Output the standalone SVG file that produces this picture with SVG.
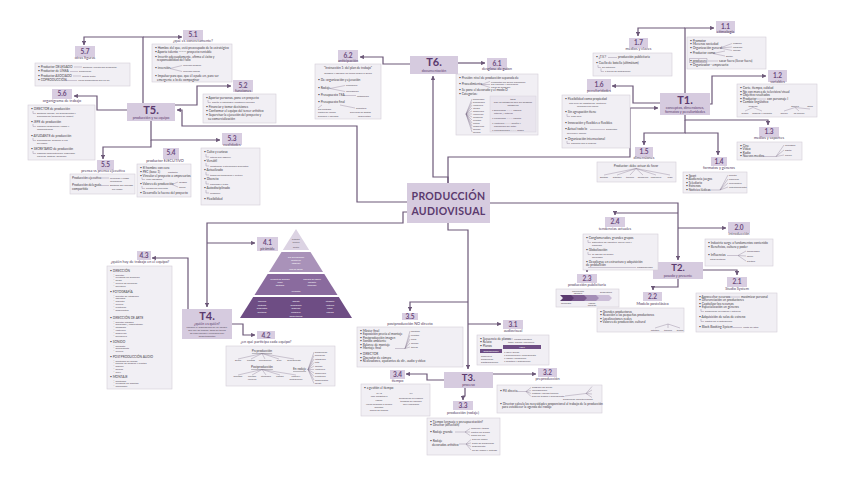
<svg xmlns="http://www.w3.org/2000/svg" width="848" height="477" viewBox="0 0 848 477">
<defs>
<style>
.tb{fill:#d6cbdf}
.lb{fill:#d8cde1}
.cb{fill:#f1eff4;stroke:#d3ccd8;stroke-width:.6}
.cn{fill:none;stroke:#6c5878;stroke-width:1.2}
.br{fill:none;stroke:#7d6d88;stroke-width:.35}
.T{font-family:Lato,"Liberation Sans",sans-serif;font-weight:700;font-size:11px;fill:#5b3a6e;text-anchor:middle}
.Ts{font-family:Lato,"Liberation Sans",sans-serif;font-size:3.6px;fill:#5b3a6e;text-anchor:middle}
.n{font-family:Lato,"Liberation Sans",sans-serif;font-weight:700;font-size:6.5px;fill:#6a4a7c;text-anchor:middle}
.s{font-family:Lato,"Liberation Sans",sans-serif;font-size:3.8px;fill:#4f3a5c;text-anchor:middle}
.t{font-family:Lato,"Liberation Sans",sans-serif;font-size:3.2px;fill:#454048}
.u{font-family:Lato,"Liberation Sans",sans-serif;font-size:2.5px;fill:#5a5060}
.w{font-family:Lato,"Liberation Sans",sans-serif;font-size:2.4px;fill:#ffffff;text-anchor:middle}
.c{text-anchor:middle}
</style>
<marker id="a" viewBox="0 0 6 6" refX="5.5" refY="3" markerWidth="3.6" markerHeight="3.6" orient="auto"><path d="M0,0L6,3L0,6z" fill="#6c5878"/></marker>
</defs>
<rect width="848" height="477" fill="#ffffff"/>

<g id="connectors">
<path class="cn" d="M448,183V177H433V76" marker-end="url(#a)"/>
<path class="cn" d="M448,183V157H630V108H658" marker-end="url(#a)"/>
<path class="cn" d="M407,202H357V126H182V110H177" marker-end="url(#a)"/>
<path class="cn" d="M407,212H403V223H207V307" marker-end="url(#a)"/>
<path class="cn" d="M448,223V230H468V369" marker-end="url(#a)"/>
<path class="cn" d="M490,203H678V260" marker-end="url(#a)"/>
<path class="cn" d="M458,63H485" marker-end="url(#a)"/>
<path class="cn" d="M410,64H383V57H360" marker-end="url(#a)"/>
<path class="cn" d="M143,103V37H84V45" marker-end="url(#a)"/>
<path class="cn" d="M143,37H182" marker-end="url(#a)"/>
<path class="cn" d="M175,105H197V86H231" marker-end="url(#a)"/>
<path class="cn" d="M127,110H97V96H74" marker-end="url(#a)"/>
<path class="cn" d="M151,121V140H220" marker-end="url(#a)"/>
<path class="cn" d="M151,140V147H103V159" marker-end="url(#a)"/>
<path class="cn" d="M685,93V28H714" marker-end="url(#a)"/>
<path class="cn" d="M685,28H638V36" marker-end="url(#a)"/>
<path class="cn" d="M710,104H712V76H766" marker-end="url(#a)"/>
<path class="cn" d="M660,103H633V86H612" marker-end="url(#a)"/>
<path class="cn" d="M685,115V120H768V125" marker-end="url(#a)"/>
<path class="cn" d="M685,120V133H644V145" marker-end="url(#a)"/>
<path class="cn" d="M685,133H718V155" marker-end="url(#a)"/>
<path class="cn" d="M678,228H726" marker-end="url(#a)"/>
<path class="cn" d="M678,213H615V215" marker-end="url(#a)"/>
<path class="cn" d="M703,270H737V275" marker-end="url(#a)"/>
<path class="cn" d="M678,279V287H653V290" marker-end="url(#a)"/>
<path class="cn" d="M587,270V272" marker-end="url(#a)"/>
<path class="cn" d="M468,324H501" marker-end="url(#a)"/>
<path class="cn" d="M468,302H410V311" marker-end="url(#a)"/>
<path class="cn" d="M493,374H536" marker-end="url(#a)"/>
<path class="cn" d="M465,388V396H463V400" marker-end="url(#a)"/>
<path class="cn" d="M444,380H427V374H406" marker-end="url(#a)"/>
<path class="cn" d="M207,243H255" marker-end="url(#a)"/>
<path class="cn" d="M188,309V258H152" marker-end="url(#a)"/>
<path class="cn" d="M232,324H243V335H255" marker-end="url(#a)"/>
</g>

<g id="center">
<rect class="tb" x="407" y="183" width="83" height="40"/>
<text class="T" x="448.5" y="200" style="font-size:10.5px;letter-spacing:.3px">PRODUCCIÓN</text>
<text class="T" x="448.5" y="215" style="font-size:10.5px;letter-spacing:.3px">AUDIOVISUAL</text>
</g>

<!-- T6 -->
<g id="t6">
<rect class="tb" x="410" y="56" width="48" height="18"/>
<text class="T" x="434" y="66">T6.</text>
<text class="Ts" x="434" y="71.5">documentación</text>
</g>
<g id="n61">
<rect class="lb" x="487" y="58" width="20" height="12"/>
<text class="n" x="497" y="65.5">6.1</text>
<text class="s" x="497" y="70">desglose de guion</text>
<rect class="cb" x="456" y="74" width="82" height="61"/>
<text class="t" x="459" y="79">• Presión: nivel de producción separada de</text>
<text class="t" x="459" y="85">• Procedimiento</text>
<path class="br" d="M481,84.5L490,81.5M481,84.5L490,84.5M481,84.5L490,87.5"/>
<text class="u" x="491" y="82.5">elementos del guion ordenados</text>
<text class="u" x="491" y="85.3">por escenas y secuencias</text>
<text class="u" x="491" y="88.3">hojas de desglose</text>
<text class="t" x="459" y="91">• Se pone el decorado y el modo D</text>
<text class="t" x="459" y="95">• Categorías:</text>
<path class="br" d="M466,114L472,99M466,114L472,102M466,114L472,105M466,114L472,108M466,114L472,111M466,114L472,114M466,114L472,117M466,114L472,120M466,114L472,123M466,114L472,126M466,114L472,129M466,114L472,132"/>
<text class="u" x="473" y="99.5">decorados</text>
<text class="u" x="473" y="102.5">personajes</text>
<text class="u" x="473" y="105.5">vestuario</text>
<text class="u" x="473" y="108.5">atrezo</text>
<text class="u" x="473" y="111.5">maquillaje</text>
<text class="u" x="473" y="114.5">vehículos</text>
<text class="u" x="473" y="117.5">animales</text>
<text class="u" x="473" y="120.5">efectos</text>
<text class="u" x="473" y="123.5">extras</text>
<text class="u" x="473" y="126.5">especiales</text>
<text class="u" x="473" y="129.5">sonido</text>
<text class="u" x="473" y="132.5">música</text>
<rect x="490" y="96" width="46" height="36" fill="#e9e5ee" stroke="#d3ccd8" stroke-width=".4"/>
<text class="u c" x="513" y="99.5">tipos</text>
<text class="u c" x="513" y="102.5">Son las categorías que del desglose</text>
<text class="u c" x="513" y="105.5">categorías</text>
<text class="u" x="492" y="110.5">• Decorados ——— espacio</text>
<text class="u" x="494" y="113.5">interior / exterior</text>
<text class="u" x="492" y="118.5">• Personajes ——— reparto</text>
<text class="u" x="492" y="123.5">• Vestuario ——— diseño y</text>
<text class="u" x="494" y="126.5">confección del actor</text>
<text class="u" x="492" y="130.5">• Localizaciones ——— rodaje</text>
</g>
<g id="n62">
<rect class="lb" x="338" y="50" width="20" height="12"/>
<text class="n" x="348" y="57.5">6.2</text>
<text class="s" x="348" y="62">anticipación</text>
<rect class="cb" x="315" y="64" width="66" height="55"/>
<text class="t c" x="348" y="69">"Instrucción 1: del plan de trabajo"</text>
<text class="u c" x="348" y="74">designar y agendar las tareas según el guion</text>
<text class="t" x="318" y="81">• De: organización y ejecución</text>
<text class="t" x="318" y="89">• Rodaje</text>
<path class="br" d="M330,88.5L345,85.5M330,88.5L345,91.5"/>
<text class="u" x="346" y="86">calendario</text>
<text class="u" x="346" y="92">localización</text>
<text class="t" x="318" y="96">• Presupuesto TEA</text>
<path class="br" d="M343,95.5H356"/>
<text class="u" x="357" y="96.5">estimación</text>
<text class="t" x="318" y="103">• Presupuesto final</text>
<path class="br" d="M322,105L318,108M340,105L355,108"/>
<text class="u" x="318" y="110">por partidas</text>
<text class="u" x="356" y="109">definitivo</text>
<text class="u" x="318" y="113">costes de rodaje</text>
<text class="u" x="318" y="116.5">personal y equipos</text>
<text class="u" x="350" y="113">previsión de gastos</text>
<text class="u" x="358" y="116.5">imprevistos</text>
</g>

<!-- T5 -->
<g id="t5">
<rect class="tb" x="127" y="103" width="48" height="18"/>
<text class="T" x="151" y="113.5">T5.</text>
<text class="Ts" x="151" y="119">producción y su equipo</text>
</g>
<g id="n51">
<rect class="lb" x="183" y="30" width="20" height="10"/>
<text class="n" x="193" y="37">5.1</text>
<text class="s" x="193" y="42">¿qué es concretamente?</text>
<rect class="cb" x="152" y="44" width="80" height="38"/>
<text class="t" x="155" y="49">• Hombre del que, está preocupado de lo estratégico</text>
<text class="t" x="155" y="53">• Aporta talento ——— proyecto rentable</text>
<text class="t" x="155" y="57.5">• Invertir adecuadamente, afirma el éxito y</text>
<text class="t" x="157" y="61">responsabilidad del fallo</text>
<text class="t" x="155" y="69">• inversión</text>
<path class="br" d="M170,68.5L182,65.5M170,68.5L182,71.5"/>
<text class="u" x="183" y="66">recursos propios</text>
<text class="u" x="183" y="72">recursos ajenos</text>
<text class="t" x="155" y="77">• Impulsar para que, que él ayude en, para ser</text>
<text class="t" x="157" y="80.5">emergente a lo de compaginar</text>
</g>
<g id="n52">
<rect class="lb" x="233" y="80" width="20" height="12"/>
<text class="n" x="243" y="87.5">5.2</text>
<text class="s" x="243" y="92">funciones</text>
<rect class="cb" x="203" y="94" width="73" height="29"/>
<text class="t" x="206" y="99">• Aportar personas, pone en proyecto</text>
<path class="br" d="M208,100V102.5H211"/>
<text class="u" x="212" y="103">diseña la estrategia y gestiona recursos</text>
<text class="t" x="206" y="108">• Financiar y tomar decisiones</text>
<text class="t" x="206" y="112">• Conformar el equipo del tercer artístico</text>
<text class="t" x="206" y="116">• Supervisar la ejecución del proyecto y</text>
<text class="t" x="208" y="120">su comercialización</text>
</g>
<g id="n53">
<rect class="lb" x="222" y="133" width="20" height="12"/>
<text class="n" x="232" y="140.5">5.3</text>
<text class="s" x="232" y="146">cualidades</text>
<rect class="cb" x="201" y="148" width="59" height="57"/>
<text class="t" x="204" y="153">• Culto y curioso</text>
<path class="br" d="M206,154V157H209"/>
<text class="u" x="210" y="157.5">interés por adquirir</text>
<text class="t" x="204" y="162">• Versátil</text>
<path class="br" d="M206,163V166H209"/>
<text class="u" x="210" y="166.5">adaptación a situaciones diferentes</text>
<text class="t" x="204" y="171">• Actualizado</text>
<path class="br" d="M206,172V175H209"/>
<text class="u" x="210" y="175.5">temas de tendencias y cultura</text>
<text class="t" x="204" y="180">• Discreto</text>
<path class="br" d="M206,181V184H209"/>
<text class="u" x="210" y="184.5">confianza y trato</text>
<text class="t" x="204" y="189">• Autodisciplinado</text>
<path class="br" d="M206,190V193H209"/>
<text class="u" x="210" y="193.5">exigencia</text>
<text class="t" x="204" y="200">• Flexibilidad</text>
</g>
<g id="n54">
<rect class="lb" x="163" y="148" width="16" height="11"/>
<text class="n" x="171" y="155">5.4</text>
<text class="s" x="165" y="161.5">productor EJECUTIVO</text>
<rect class="cb" x="137" y="164" width="54" height="33"/>
<text class="t" x="140" y="168.5">• El hombre con cara</text>
<text class="t" x="140" y="172.5">• PEC (base 1)</text>
<text class="u" x="168" y="172.5">contacto</text>
<text class="t" x="140" y="176.5">• Vincular el proyecto a empresarios</text>
<path class="br" d="M142,177.5V179.5H145"/>
<text class="u" x="146" y="180">valor agregado</text>
<text class="t" x="140" y="185">• Valores de producción</text>
<path class="br" d="M172,184.5L178,182M172,184.5L178,187"/>
<text class="u" x="179" y="182.5">imagen</text>
<text class="u" x="179" y="187.5">marca</text>
<path class="br" d="M142,186V188.5H145"/>
<text class="u" x="146" y="189">calidad del proyecto</text>
<text class="t" x="140" y="194">• Desarrolla la fuerza del proyecto</text>
</g>
<g id="n55">
<rect class="lb" x="97" y="160" width="17" height="10"/>
<text class="n" x="105.5" y="167">5.5</text>
<text class="s" x="103" y="172">prensa vs prensa ejecutiva</text>
<rect class="cb" x="70" y="174" width="65" height="20"/>
<text class="t" x="72" y="178.5">Producción ejecutiva</text>
<path class="br" d="M101,178H109"/>
<text class="u" x="110" y="178.5">inversión y riesgo</text>
<text class="u" x="110" y="181.5">económico</text>
<text class="t" x="72" y="186">Producción delegada</text>
<path class="br" d="M101,185.5H109"/>
<text class="u" x="110" y="186">gestiona por encargo</text>
<text class="t" x="72" y="189.5">compartida</text>
<text class="u" x="112" y="190">sin riesgo</text>
</g>
<g id="n56">
<rect class="lb" x="52" y="89" width="20" height="10"/>
<text class="n" x="62" y="96">5.6</text>
<text class="s" x="62" y="102">organigrama de trabajo</text>
<rect class="cb" x="28" y="105" width="67" height="55"/>
<text class="t" x="31" y="110">• DIRECTOR de producción</text>
<path class="br" d="M33,111V113.5H36"/>
<text class="u" x="37" y="114">gestiona equipo, los presupuestos y</text>
<text class="u" x="37" y="117">planificación (dirección de rodaje)</text>
<text class="t" x="31" y="123">• JEFE de producción</text>
<path class="br" d="M33,124V126.5H36"/>
<text class="u" x="37" y="127">coordina producción, rodaje y</text>
<text class="u" x="37" y="130">administración</text>
<text class="t" x="31" y="137">• AYUDANTE de producción</text>
<path class="br" d="M33,138V140.5H36"/>
<text class="u" x="37" y="141">planificación, preparar el set</text>
<text class="u" x="37" y="144">de rodaje</text>
<text class="t" x="31" y="150">• SECRETARIO de producción</text>
<path class="br" d="M33,151V153.5H36"/>
<text class="u" x="37" y="154">organiza administración, seguridad,</text>
<text class="u" x="37" y="157">horarios, gestión, permisos</text>
</g>
<g id="n57">
<rect class="lb" x="75" y="46" width="20" height="11"/>
<text class="n" x="85" y="53.5">5.7</text>
<text class="s" x="85" y="59">otras figuras</text>
<rect class="cb" x="35" y="63" width="95" height="23"/>
<text class="t" x="38" y="67.5">• Productor DELEGADO</text>
<path class="br" d="M74,67H82"/>
<text class="u" x="83" y="67.5">gestiona, cuenta por productor</text>
<text class="t" x="38" y="72">• Productor de LÍNEA</text>
<path class="br" d="M70,71.5H78"/>
<text class="u" x="79" y="72">producción</text>
<text class="t" x="38" y="76.5">• Productor ASOCIADO</text>
<path class="br" d="M73,76H81"/>
<text class="u" x="82" y="76.5">aporta parte</text>
<text class="t" x="38" y="81">• COPRODUCCIÓN</text>
<path class="br" d="M64,80.5H77"/>
<text class="u" x="78" y="81">varias productoras por un fin</text>
</g>

<!-- T1 -->
<g id="t1">
<rect class="tb" x="660" y="93" width="50" height="22"/>
<text class="T" x="685" y="104">T1.</text>
<text class="Ts" x="685" y="108.5">conceptos, dimensiones,</text>
<text class="Ts" x="685" y="112.5">formatos y peculiaridades</text>
</g>
<g id="n11">
<rect class="lb" x="716" y="21" width="19" height="12"/>
<text class="n" x="725.5" y="28.5">1.1</text>
<text class="s" x="725.5" y="33">etimología</text>
<rect class="cb" x="687" y="37" width="79" height="32"/>
<text class="t" x="690" y="41.5">• Promotor</text>
<text class="t" x="690" y="45">• Mecenas sociedad</text>
<text class="t" x="690" y="48.5">• Organización general</text>
<path class="br" d="M720,48L732,43.5M720,48L732,47M720,48L732,50.5"/>
<text class="u" x="733" y="44">negocio</text>
<text class="u" x="733" y="47.5">empresa</text>
<text class="u" x="733" y="51">equipo</text>
<text class="t" x="690" y="54">• Productor como</text>
<path class="br" d="M713,53.5L725,51M713,53.5L725,56"/>
<text class="u" x="726" y="57">gestor</text>
<text class="t" x="690" y="61.5">• producere</text>
<path class="br" d="M689.5,58.5H707V62.5H689.5Z"/>
<path class="br" d="M708,61H718"/>
<text class="t" x="719" y="61.5">sacar fuera (llevar fuera)</text>
<text class="t" x="690" y="65.5">• Organizador - empresario</text>
</g>
<g id="n17">
<rect class="lb" x="629" y="38" width="19" height="10"/>
<text class="n" x="638.5" y="45">1.7</text>
<text class="s" x="638.5" y="50">medios y claves</text>
<rect class="cb" x="593" y="53" width="79" height="23"/>
<text class="t" x="596" y="58">• ¿T.V.?</text>
<path class="br" d="M608,57.5H617"/>
<text class="t" x="618" y="58">producción publicitaria</text>
<text class="t" x="596" y="64">• Cuello de botella (ultimátum)</text>
<path class="br" d="M598,65V67.5H601"/>
<text class="u" x="602" y="68">En Rotación</text>
<path class="br" d="M601,68.5V71.5H604"/>
<text class="u" x="605" y="72">a través de distribución</text>
</g>
<g id="n16">
<rect class="lb" x="587" y="79" width="24" height="12"/>
<text class="n" x="599" y="86.5">1.6</text>
<text class="s" x="599" y="91.5">peculiaridades</text>
<rect class="cb" x="562" y="95" width="68" height="53"/>
<text class="t" x="565" y="100">• Flexibilidad como propiedad</text>
<text class="u" x="569" y="103.5">alto nivel de adaptación, controlar</text>
<text class="u" x="577" y="107">economía de escala</text>
<text class="t" x="565" y="113">• Sin agrupación tiene</text>
<path class="br" d="M567,114V116.5H570"/>
<text class="u" x="571" y="117">cash flow</text>
<text class="t" x="565" y="124">• Innovación y flexibles a flexibles</text>
<text class="t" x="565" y="130">• Actual todo lo</text>
<path class="br" d="M590,129.5H605"/>
<text class="u" x="606" y="130">productos</text>
<text class="u" x="567" y="133.5">servicios y oficios</text>
<text class="t" x="565" y="140">• Organización internacional</text>
<path class="br" d="M567,141V143.5H570"/>
<text class="u" x="571" y="144">conectar con el público</text>
</g>
<g id="n12">
<rect class="lb" x="768" y="70" width="19" height="12"/>
<text class="n" x="777.5" y="77.5">1.2</text>
<text class="s" x="777.5" y="82.5">variables</text>
<rect class="cb" x="737" y="84" width="80" height="33"/>
<text class="t" x="740" y="89">• Corte, tiempo, calidad</text>
<text class="t" x="740" y="92.5">• No con marca de televisivo/visual</text>
<text class="t" x="740" y="96">• Objetivo resultados</text>
<text class="t" x="740" y="99.5">• Productor</text>
<path class="br" d="M757,99H766"/>
<text class="t" x="767" y="99.5">con personaje I</text>
<text class="t" x="740" y="103">• Cambio lingüístico</text>
<text class="u c" x="753" y="106.5">lenguaje</text>
<path class="br" d="M753,107.5L745,111M753,107.5L762,111"/>
<text class="u c" x="745" y="113.5">medio</text>
<text class="u c" x="762" y="113.5">soporte y formato</text>
<text class="u c" x="795" y="106.5">género</text>
<path class="br" d="M795,107.5L784,111M795,107.5L799,111M795,107.5L810,109"/>
<text class="u c" x="784" y="113.5">ficción</text>
<text class="u c" x="799" y="113.5">no ficción</text>
<text class="u c" x="810" y="107">otros</text>
</g>
<g id="n13">
<rect class="lb" x="759" y="127" width="20" height="10"/>
<text class="n" x="769" y="134">1.3</text>
<text class="s" x="769" y="139">medios y soportes</text>
<rect class="cb" x="737" y="142" width="65" height="18"/>
<text class="t" x="740" y="146.5">• Cine</text>
<text class="t" x="740" y="150">• Vídeo</text>
<text class="t" x="740" y="153.5">• Radio</text>
<text class="t" x="740" y="157">• Nuevos medios</text>
<path class="br" d="M763,156.5H776L784,145M776,156.5L784,150M776,156.5L784,155"/>
<text class="u" x="785" y="145.5">analógico</text>
<text class="u" x="785" y="150.5">digital</text>
<text class="u" x="785" y="155.5">online</text>
</g>
<g id="n15">
<rect class="lb" x="635" y="147" width="18" height="10"/>
<text class="n" x="644" y="154">1.5</text>
<text class="s" x="644" y="159">dimensiones</text>
<rect class="cb" x="597" y="162" width="79" height="20"/>
<text class="t c" x="636" y="167">Productor: debe actuar de favor</text>
<path class="br" d="M636,168.5L604,175M636,168.5L617,175M636,168.5L630,175M636,168.5L643,175M636,168.5L656,175M636,168.5L670,175"/>
<text class="u c" x="604" y="177.5">gestión</text>
<text class="u c" x="617" y="177.5">artística</text>
<text class="u c" x="630" y="177.5">técnica</text>
<text class="u c" x="643" y="177.5">financiera</text>
<text class="u c" x="656" y="177.5">comercial</text>
<text class="u c" x="670" y="177.5">legal</text>
</g>
<g id="n14">
<rect class="lb" x="711" y="157" width="16" height="9"/>
<text class="n" x="719" y="163.5">1.4</text>
<text class="s" x="719" y="168.5">formatos y géneros</text>
<rect class="cb" x="683" y="172" width="64" height="21"/>
<text class="t" x="686" y="176.5">• Sport</text>
<text class="t" x="686" y="180">• Audiencia juegos</text>
<text class="t" x="686" y="183.5">• Telediario</text>
<text class="t" x="686" y="187">• Estrenos</text>
<text class="t" x="686" y="190.5">• Noticias lúdicas</text>
<path class="br" d="M708,190H720L728,175M720,190L728,179M720,190L728,183M720,190L728,187"/>
<text class="u" x="729" y="175.5">directo</text>
<text class="u" x="729" y="179.5">concurso</text>
<text class="u" x="729" y="183.5">informativo</text>
<text class="u" x="729" y="187.5">entretenimiento</text>
</g>

<!-- T2 -->
<g id="t2">
<rect class="tb" x="653" y="262" width="50" height="17"/>
<text class="T" x="678" y="271" style="font-size:9.5px">T2.</text>
<text class="Ts" x="678" y="277">pasado y presente</text>
</g>
<g id="n20">
<rect class="lb" x="728" y="222" width="22" height="11"/>
<text class="n" x="739" y="229.5">2.0</text>
<text class="s" x="739" y="234.5">introducción</text>
<rect class="cb" x="705" y="239" width="68" height="27"/>
<text class="t" x="708" y="244">• Industria surge a fundamentos contenido</text>
<text class="t" x="708" y="247.5">• Beneficios, cultura y poder</text>
<text class="t" x="708" y="256">• Influencias</text>
<text class="u" x="710" y="259.5">otros sectores</text>
<path class="br" d="M727,255.5H738L746,251M738,255.5L746,256M738,255.5L746,261"/>
<text class="u" x="747" y="251.5">tecnológico</text>
<text class="u" x="747" y="256.5">social</text>
<text class="u" x="747" y="261.5">político</text>
</g>
<g id="n21">
<rect class="lb" x="727" y="277" width="20" height="10"/>
<text class="n" x="737" y="284">2.1</text>
<text class="s" x="737" y="289.5">Studio System</text>
<rect class="cb" x="696" y="293" width="81" height="39"/>
<text class="t" x="699" y="297.5">• Aprovechar recursos</text>
<path class="br" d="M729,297H740"/>
<text class="t" x="741" y="297.5">maximizar personal</text>
<text class="t" x="699" y="301">• Diferenciación en productores</text>
<text class="t" x="699" y="304.5">• Capitalizar los recursos</text>
<text class="t" x="699" y="308">• Especialización en géneros</text>
<path class="br" d="M701,309V311.5H704"/>
<text class="u" x="705" y="312">producción en cadena y estrellas</text>
<text class="t" x="699" y="318">• Adquisición de salas de estreno</text>
<path class="br" d="M701,319V321.5H704"/>
<text class="u" x="705" y="322">control de la distribución</text>
<text class="t" x="699" y="328">• Block Booking System</text>
<path class="br" d="M733,327.5H742"/>
<text class="u" x="743" y="328">venta en lotes</text>
</g>
<g id="n22">
<rect class="lb" x="643" y="292" width="19" height="9"/>
<text class="n" x="652.5" y="298.5">2.2</text>
<text class="s" x="652.5" y="304.5">Modelo postclásico</text>
<rect class="cb" x="597" y="308" width="87" height="24"/>
<text class="t" x="600" y="312.5">• Grandes productoras</text>
<text class="t" x="600" y="316">• Reacción a las pequeñas productoras</text>
<text class="t" x="600" y="319.5">• Localizaciones reales</text>
<text class="t" x="600" y="323">• Valores de producción, cultural</text>
<path class="br" d="M668,324L655,328M668,324L668,328M668,324L680,328"/>
<text class="u c" x="655" y="330.5">estética</text>
<text class="u c" x="668" y="330.5">técnica</text>
<text class="u c" x="680" y="330.5">temas</text>
</g>
<g id="n24">
<rect class="lb" x="605" y="217" width="20" height="10"/>
<text class="n" x="615" y="224">2.4</text>
<text class="s" x="615" y="229.5">tendencias actuales</text>
<rect class="cb" x="583" y="234" width="75" height="36"/>
<text class="t" x="586" y="239">• Conglomerados, grandes grupos</text>
<path class="br" d="M588,240V242.5H591"/>
<text class="u" x="592" y="243">Estructura de industria, mayor cine y</text>
<text class="u" x="592" y="246">consumo</text>
<text class="t" x="586" y="251">• Globalización</text>
<path class="br" d="M588,252V254.5H591"/>
<text class="u" x="592" y="255">se agrupa en países</text>
<text class="u" x="592" y="258">mercados</text>
<text class="t" x="586" y="262.5">• Despliegue en estructura y adquisición</text>
<text class="t" x="586" y="266">de producción</text>
<path class="br" d="M588,267.5H636"/>
<text class="u" x="637" y="268">conglomerado</text>
</g>
<g id="n23">
<rect class="lb" x="577" y="274" width="20" height="9"/>
<text class="n" x="587" y="280.5">2.3</text>
<text class="s" x="587" y="286">producción publicitaria</text>
<rect class="cb" x="556" y="289" width="63" height="18"/>
<path d="M560,295H572L575,298L572,301H560L563,298Z" fill="#5b3a70"/>
<path d="M571,295H585L588,298L585,301H571L574,298Z" fill="#7a5a8e"/>
<path d="M584,295H597L600,298L597,301H584L587,298Z" fill="#a58fb7"/>
<path d="M596,295H609L612,298L609,301H596L599,298Z" fill="#ccbfd8"/>
<text class="u c" x="578" y="291.8">anunciante</text>
<text class="u c" x="578" y="294">agencia</text>
<text class="u c" x="606" y="293">productora</text>
<text class="u c" x="566" y="304">concepto</text>
<text class="u c" x="592" y="304">rodaje</text>
<text class="u c" x="592" y="306.2">emisión</text>
</g>

<!-- T3 -->
<g id="t3">
<rect class="tb" x="444" y="372" width="49" height="16"/>
<text class="T" x="468.5" y="380.5" style="font-size:9.5px">T3.</text>
<text class="Ts" x="468.5" y="386.3">proceso</text>
</g>
<g id="n31">
<rect class="lb" x="503" y="320" width="20" height="9"/>
<text class="n" x="513" y="326.5">3.1</text>
<text class="s" x="513" y="331.5">audiovisual</text>
<rect class="cb" x="477" y="335" width="72" height="30"/>
<text class="t" x="480" y="339.5">• Secuencia de planos</text>
<path class="br" d="M505,339H513"/>
<text class="u" x="514" y="339.5">unidad narrativa</text>
<text class="t" x="480" y="343">• Relato</text>
<text class="u" x="508" y="343">toma, escena, secuencia</text>
<text class="t" x="480" y="346.5">• Planos</text>
<rect x="480" y="349" width="22" height="4" fill="#6e4d84"/>
<rect x="503" y="345" width="38" height="4" fill="#6e4d84"/>
<text class="w" x="522" y="348">fases</text>
<text class="w" x="491" y="352">preproducción</text>
<text class="u" x="481" y="356.5">desarrollo</text>
<text class="u" x="481" y="359.5">producción</text>
<text class="u" x="481" y="362.5">postproducción</text>
<text class="u" x="504" y="352.5">• idea y guion</text>
<text class="u" x="504" y="355.5">• planificación y presupuesto</text>
<text class="u" x="504" y="358.5">• rodaje y grabación</text>
<text class="u" x="504" y="361.5">• montaje y distribución</text>
</g>
<g id="n32">
<rect class="lb" x="538" y="368" width="19" height="9"/>
<text class="n" x="547.5" y="374.5">3.2</text>
<text class="s" x="547.5" y="380">preproducción</text>
<rect class="cb" x="497" y="385" width="105" height="28"/>
<text class="t" x="500" y="392">• Pill directa</text>
<path class="br" d="M517,391.5H526L531,387.5M526,391.5L531,390.5M526,391.5L531,393.5M526,391.5L531,396.5"/>
<text class="u" x="532" y="388">desglose del guion</text>
<text class="u" x="532" y="391">localizaciones</text>
<text class="u" x="532" y="394">casting y equipo técnico</text>
<text class="u" x="532" y="397">plan de trabajo y presupuesto</text>
<path class="br" d="M565,396L586,393.5M586,393.5L592,386.5M586,393.5L592,390M586,393.5L592,394M586,393.5L592,397.5"/>
<text class="u" x="563" y="399.5">producción ejecutiva</text>
<text class="u" x="586" y="399.5">rodaje</text>
<text class="t" x="500" y="404.5">• Director calcula las necesidades proporcional al trabajo de la producción</text>
<text class="t" x="502" y="408">para establecer la agenda del rodaje</text>
</g>
<g id="n33">
<rect class="lb" x="453" y="401" width="20" height="9"/>
<text class="n" x="463" y="407.5">3.3</text>
<text class="s" x="463" y="413.5">producción (rodaje)</text>
<rect class="cb" x="427" y="418" width="73" height="37"/>
<text class="t" x="430" y="422.5">• Tiempo lenguaje y presupuestación?</text>
<text class="t" x="430" y="426">• Director (dirección)</text>
<text class="t" x="430" y="432.5">• Rodaje grande</text>
<path class="br" d="M455,432H465L470,428.5M465,432L470,432M465,432L470,435.5"/>
<text class="u" x="471" y="429">ensayos y tomas</text>
<text class="u" x="471" y="432.5">control de planos</text>
<text class="u" x="471" y="436">orden del día</text>
<text class="t" x="430" y="442">• Rodaje</text>
<text class="t" x="432" y="445.5">decorados artístico</text>
<path class="br" d="M459,444H466L471,439.5M466,444L471,443M466,444L471,446.5M466,444L471,450"/>
<text class="u" x="472" y="440">plan de rodaje</text>
<text class="u" x="472" y="443.5">parte de producción</text>
<text class="u" x="472" y="447">seguimiento</text>
<text class="u" x="472" y="450.5">fin del rodaje y entrega</text>
</g>
<g id="n34">
<rect class="lb" x="390" y="370" width="15" height="9"/>
<text class="n" x="397.5" y="376.5">3.4</text>
<text class="s" x="397.5" y="381.5">tiempo</text>
<rect class="cb" x="361" y="384" width="69" height="32"/>
<text class="t" x="364" y="388.5">• a gestión el tiempo</text>
<text class="u c" x="379" y="393.5">CINE</text>
<text class="u c" x="379" y="396.5">fase obligatoria</text>
<text class="u c" x="379" y="400.5">rodaje</text>
<text class="u c" x="379" y="404.5">varias semanas o meses</text>
<text class="u c" x="379" y="407.5">montaje</text>
<text class="u c" x="379" y="410.5">meses de trabajo</text>
<text class="u c" x="411" y="393.5">TV</text>
<text class="u c" x="411" y="398.5">producción en cadena</text>
<text class="u c" x="411" y="401.5">tiempos de emisión</text>
<text class="u c" x="411" y="404.5">muy reducidos</text>
</g>
<g id="n35">
<rect class="lb" x="402" y="313" width="16" height="7"/>
<text class="n" x="410" y="319">3.5</text>
<text class="s" x="410" y="324.5">postproducción NO directo</text>
<rect class="cb" x="357" y="327" width="106" height="40"/>
<text class="t" x="360" y="331.5">• Máster final</text>
<text class="t" x="360" y="335">• Exposición previa al montaje</text>
<text class="t" x="360" y="338.5">• Postproducción imagen</text>
<text class="t" x="360" y="342">• Sonido ambiente</text>
<text class="t" x="360" y="345.5">• Balance de montaje</text>
<text class="t" x="360" y="349">• Montaje final</text>
<path class="br" d="M395,348.5H405L410,331M405,348.5L410,335M405,348.5L410,339M405,348.5L410,343M405,348.5L410,347"/>
<text class="u" x="411" y="331.5">montaje</text>
<text class="u" x="411" y="335.5">efectos</text>
<text class="u" x="411" y="339.5">color</text>
<text class="u" x="411" y="343.5">sonido</text>
<text class="u" x="411" y="347.5">títulos</text>
<text class="t" x="360" y="355">• DIRECTOR</text>
<text class="t" x="360" y="358.5">• Operador de cámara</text>
<text class="t" x="360" y="362">• Realizadores, ayudantes de dir., audio y vídeo</text>
</g>

<!-- T4 -->
<g id="t4">
<rect class="tb" x="182" y="309" width="50" height="30"/>
<text class="T" x="207" y="320">T4.</text>
<text class="Ts" x="207" y="324.5">¿quién es quién?</text>
<text class="u c" x="207" y="328">conocer el organigrama de un equipo,</text>
<text class="u c" x="207" y="331">qué hay de trabajo, tipos de tareas</text>
<text class="u c" x="207" y="334">de cada equipo y funciones por</text>
<text class="u c" x="207" y="337">departamentos</text>
</g>
<g id="n41">
<rect class="lb" x="257" y="237" width="21" height="14"/>
<text class="n" x="267.5" y="245">4.1</text>
<text class="s" x="267.5" y="249.5">pirámide</text>
<polygon points="296,229 309.2,250 282.8,250" fill="#dcd3e3"/>
<polygon points="281.5,252 310.5,252 323,272 269,272" fill="#a992b9"/>
<polygon points="267.7,274 324.3,274 337.5,295 254.5,295" fill="#8a6b9e"/>
<polygon points="253.2,297 338.8,297 352,318 240,318" fill="#6e4d84"/>
<text class="u c" x="296" y="240" style="font-size:1.8px">productor</text>
<text class="u c" x="296" y="243" style="font-size:1.8px">ejecutivo</text>
<text class="u c" x="296" y="247.5" style="font-size:1.8px">director</text>
<text class="w" x="296" y="258" style="font-size:2px">jefe de producción</text>
<text class="w" x="296" y="261" style="font-size:2px">director de</text>
<text class="w" x="296" y="264" style="font-size:2px">fotografía</text>
<text class="w" x="296" y="270" style="font-size:2px">jefes de equipo</text>
<text class="w" x="280" y="280" style="font-size:2px">ayudante de dirección</text>
<text class="w" x="280" y="283" style="font-size:2px">script</text>
<text class="w" x="280" y="286" style="font-size:2px">montador</text>
<text class="w" x="312" y="280" style="font-size:2px">operador de cámara</text>
<text class="w" x="312" y="283" style="font-size:2px">sonidista</text>
<text class="w" x="312" y="286" style="font-size:2px">decorador</text>
<text class="w" x="296" y="292" style="font-size:2px">ayudantes</text>
<text class="w" x="262" y="302" style="font-size:2px">auxiliares</text>
<text class="w" x="262" y="305.5" style="font-size:2px">eléctricos</text>
<text class="w" x="262" y="309" style="font-size:2px">maquinistas</text>
<text class="w" x="262" y="312.5" style="font-size:2px">meritorios</text>
<text class="w" x="296" y="302" style="font-size:2px">foquista</text>
<text class="w" x="296" y="305.5" style="font-size:2px">microfonista</text>
<text class="w" x="296" y="309" style="font-size:2px">maquillaje</text>
<text class="w" x="296" y="312.5" style="font-size:2px">peluquería</text>
<text class="w" x="330" y="302" style="font-size:2px">atrezzista</text>
<text class="w" x="330" y="305.5" style="font-size:2px">vestuario</text>
<text class="w" x="330" y="309" style="font-size:2px">chófer</text>
<text class="w" x="330" y="312.5" style="font-size:2px">catering</text>
<text class="w" x="296" y="316.5" style="font-size:2px">equipo técnico</text>
</g>
<g id="n42">
<rect class="lb" x="257" y="331" width="18" height="8"/>
<text class="n" x="266" y="337.5">4.2</text>
<text class="s" x="266" y="343">¿en qué participa cada equipo?</text>
<rect class="cb" x="226" y="346" width="109" height="40"/>
<text class="t c" x="262" y="352" style="text-decoration:underline">Preproducción</text>
<path class="br" d="M262,353.5L238,359M262,353.5L251,359M262,353.5L265,359M262,353.5L279,359M262,353.5L294,359"/>
<text class="u c" x="238" y="361">guion</text>
<text class="u c" x="251" y="361">casting</text>
<text class="u c" x="265" y="361">localización</text>
<text class="u c" x="279" y="361">plan</text>
<text class="u c" x="294" y="361">presupuesto</text>
<text class="t c" x="262" y="368" style="text-decoration:underline">Postproducción</text>
<path class="br" d="M262,369.5L238,375M262,369.5L252,375M262,369.5L266,375M262,369.5L280,375M262,369.5L296,375"/>
<text class="u c" x="238" y="377">montaje</text>
<text class="u c" x="252" y="377">efectos</text>
<text class="u c" x="252" y="379.5">visuales</text>
<text class="u c" x="266" y="377">etalonaje</text>
<text class="u c" x="280" y="377">sonido</text>
<text class="u c" x="296" y="377">copias y</text>
<text class="u c" x="296" y="379.5">distribución</text>
<text class="t" x="293" y="370" style="text-decoration:underline">En rodaje</text>
<path class="br" d="M308,369.5L314,352M308,369.5L314,355.5M308,369.5L314,359M308,369.5L314,362.5M308,369.5L314,366M308,369.5L314,369.5M308,369.5L314,373M308,369.5L314,376.5M308,369.5L314,380M308,369.5L314,383.5"/>
<text class="u" x="315" y="352.5">producción</text>
<text class="u" x="315" y="356">dirección</text>
<text class="u" x="315" y="359.5">fotografía</text>
<text class="u" x="315" y="363">arte</text>
<text class="u" x="315" y="366.5">sonido</text>
<text class="u" x="315" y="370">vestuario</text>
<text class="u" x="315" y="373.5">maquillaje</text>
<text class="u" x="315" y="377">eléctricos</text>
<text class="u" x="315" y="380.5">maquinistas</text>
<text class="u" x="315" y="384">script</text>
</g>
<g id="n43">
<rect class="lb" x="137" y="251" width="14" height="9"/>
<text class="n" x="144" y="257.5">4.3</text>
<text class="s" x="140" y="263">¿quién hay de trabajo en el equipo?</text>
<rect class="cb" x="107" y="266" width="65" height="123"/>
<text class="t" x="110" y="272">• DIRECCIÓN</text>
<text class="u" x="113" y="275.5">└ director</text>
<text class="u" x="113" y="278.3">└ ayudante de dirección</text>
<text class="u" x="113" y="281.1">└ script</text>
<text class="u" x="113" y="283.9">└ auxiliar de dirección</text>
<text class="u" x="113" y="286.7">└ meritorio</text>
<text class="t" x="110" y="293">• FOTOGRAFÍA</text>
<text class="u" x="113" y="296.5">└ director de fotografía</text>
<text class="u" x="113" y="299.3">└ operador</text>
<text class="u" x="113" y="302.1">└ foquista</text>
<text class="u" x="113" y="304.9">└ auxiliar</text>
<text class="u" x="113" y="307.7">└ eléctricos</text>
<text class="u" x="113" y="310.5">└ maquinistas</text>
<text class="t" x="110" y="319">• DIRECCIÓN DE ARTE</text>
<text class="u" x="113" y="322.5">└ director artístico</text>
<text class="u" x="113" y="325.3">└ decorador / ambientador</text>
<text class="u" x="113" y="328.1">└ atrezzista</text>
<text class="u" x="113" y="330.9">└ vestuario</text>
<text class="u" x="113" y="333.7">└ maquillaje</text>
<text class="u" x="113" y="336.5">└ peluquería</text>
<text class="t" x="110" y="343">• SONIDO</text>
<text class="u" x="113" y="346.5">└ sonidista</text>
<text class="u" x="113" y="349.3">└ microfonista</text>
<text class="u" x="113" y="352.1">└ auxiliar</text>
<text class="t" x="110" y="358">• POSTPRODUCCIÓN AUDIO</text>
<text class="u" x="113" y="361.5">└ montador de sonido</text>
<text class="u" x="113" y="364.3">└ técnico de mezclas y efectos</text>
<text class="u" x="113" y="367.1">└ doblaje</text>
<text class="u" x="113" y="369.9">└ música</text>
<text class="u" x="113" y="372.7">└ foley</text>
<text class="t" x="110" y="378">• MONTAJE</text>
<text class="u" x="113" y="381.5">└ montador</text>
<text class="u" x="113" y="384.3">└ ayudante de montaje</text>
<text class="u" x="113" y="387.1">└ etalonador</text>
</g>
</svg>
